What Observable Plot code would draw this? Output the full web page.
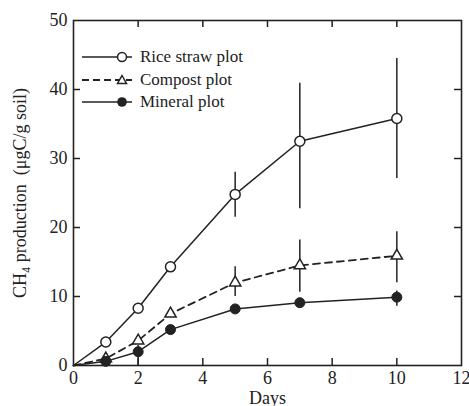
<!DOCTYPE html>
<html>
<head>
<meta charset="utf-8">
<script src="https://cdn.jsdelivr.net/npm/d3@7"></script>
<script src="https://cdn.jsdelivr.net/npm/@observablehq/plot@0.6"></script>
<style>
  body { margin: 0; background: #fff; }
  #wrap { position: relative; width: 469px; height: 406px; font-family: "Liberation Serif", "DejaVu Serif", serif; }
  #legend { position: absolute; left: 80px; top: 46px; font-size: 17px; color: #222; }
  .row { display: flex; align-items: center; height: 22.5px; }
  .row span { margin-left: 6px; }
</style>
</head>
<body>
<div id="wrap"></div>
<script>
const days = [0, 1, 2, 3, 5, 7, 10];
const seriesNames = ["Rice straw plot", "Compost plot", "Mineral plot"];
const riceMean = [0, 3.4, 8.3, 14.3, 24.8, 32.5, 35.8];
const riceLo   = [null, null, null, null, 21.5, 22.7, 27.1];
const riceHi   = [null, null, null, null, 28.0, 40.9, 44.5];
const compostMean = [0, 1.0, 3.6, 7.5, 12.0, 14.5, 15.9];
const compostLo   = [null, null, null, null, 10.0, 10.6, 12.0];
const compostHi   = [null, null, null, null, 14.3, 18.2, 19.4];
const mineralMean = [0, 0.6, 2.0, 5.2, 8.2, 9.1, 9.9];
const mineralLo   = [null, null, 0.0, null, null, null, 8.6];
const mineralHi   = [null, null, 2.9, null, null, null, 10.8];
const xTicks = [0, 2, 4, 6, 8, 10, 12];
const yTicks = [0, 10, 20, 30, 40, 50];

function rows(mean, lo, hi, name) {
  return days.map((d, i) => ({day: d, value: mean[i], lo: lo[i], hi: hi[i], series: name}));
}
const rice = rows(riceMean, riceLo, riceHi, seriesNames[0]);
const compost = rows(compostMean, compostLo, compostHi, seriesNames[1]);
const mineral = rows(mineralMean, mineralLo, mineralHi, seriesNames[2]);
const all = [...rice, ...compost, ...mineral];
const bars = all.filter(d => d.lo != null && d.day > 0);

const W = 469, H = 406, mL = 73, mR = 8, mT = 20, mB = 41, TK = 7;
const fw = W - mL - mR, fh = H - mT - mB;
const xMin = xTicks[0], xMax = xTicks[xTicks.length - 1];
const yMin = yTicks[0], yMax = yTicks[yTicks.length - 1];
const tkY = (yMax - yMin) * TK / fh;   // tick length in y units
const tkX = (xMax - xMin) * TK / fw;   // tick length in x units
const ink = "#222";
const inner = a => a.slice(1, -1);
const chart = Plot.plot({
  width: W,
  height: H,
  marginLeft: mL,
  marginRight: mR,
  marginTop: mT,
  marginBottom: mB,
  style: {fontFamily: "Liberation Serif, serif", fontSize: "18px", color: ink, background: "white"},
  x: {domain: [xMin, xMax]},
  y: {domain: [yMin, yMax]},
  marks: [
    Plot.frame({stroke: ink, strokeWidth: 1.6}),
    Plot.axisX({ticks: xTicks, tickSize: 0, tickPadding: 6, tickFormat: d => String(d), label: "Days", labelAnchor: "center", labelArrow: "none", labelOffset: 38, fontSize: 18}),
    Plot.axisY({ticks: yTicks, tickSize: 0, tickPadding: 6, tickFormat: d => String(d), label: "CH\u2084 production  (\u03bcgC/g soil)", labelAnchor: "center", labelArrow: "none", labelOffset: 60, fontSize: 18}),
    // inward ticks on all four sides
    Plot.ruleX(inner(xTicks), {x: d => d, y1: yMin, y2: yMin + tkY, stroke: ink, strokeWidth: 1.5}),
    Plot.ruleX(inner(xTicks), {x: d => d, y1: yMax - tkY, y2: yMax, stroke: ink, strokeWidth: 1.5}),
    Plot.ruleY(inner(yTicks), {y: d => d, x1: xMin, x2: xMin + tkX, stroke: ink, strokeWidth: 1.5}),
    Plot.ruleY(inner(yTicks), {y: d => d, x1: xMax - tkX, x2: xMax, stroke: ink, strokeWidth: 1.5}),
    Plot.ruleX(bars, {x: "day", y1: "lo", y2: "hi", stroke: ink, strokeWidth: 1.5}),
    Plot.line(rice, {x: "day", y: "value", stroke: ink, strokeWidth: 1.5}),
    Plot.line(compost, {x: "day", y: "value", stroke: ink, strokeWidth: 1.8, strokeDasharray: "7,5"}),
    Plot.line(mineral, {x: "day", y: "value", stroke: ink, strokeWidth: 1.5}),
    Plot.dot(rice.filter(d => d.day > 0), {x: "day", y: "value", r: 5, fill: "white", stroke: ink, strokeWidth: 1.5}),
    Plot.dot(compost.filter(d => d.day > 0), {x: "day", y: "value", r: 4.2, symbol: "triangle", fill: "white", stroke: ink, strokeWidth: 1.5}),
    Plot.dot(mineral.filter(d => d.day > 0), {x: "day", y: "value", r: 5, fill: ink, stroke: ink, strokeWidth: 1})
  ]
});
chart.querySelectorAll("text").forEach(t => t.setAttribute("font-family", "Liberation Serif, serif"));
const wrap = document.getElementById("wrap");
wrap.appendChild(chart);

// legend
const legend = document.createElement("div");
legend.id = "legend";
const sym = [
  `<line x1="2" y1="8" x2="52" y2="8" stroke="${ink}" stroke-width="1.5"/><circle cx="42" cy="8" r="4.5" fill="white" stroke="${ink}" stroke-width="1.5"/>`,
  `<line x1="2" y1="8" x2="52" y2="8" stroke="${ink}" stroke-width="1.8" stroke-dasharray="7,4"/><path d="M42,3.5 L46.5,11.5 L37.5,11.5 Z" fill="white" stroke="${ink}" stroke-width="1.5"/>`,
  `<line x1="2" y1="8" x2="52" y2="8" stroke="${ink}" stroke-width="1.5"/><circle cx="42" cy="8" r="4.8" fill="${ink}"/>`
];
seriesNames.forEach((n, i) => {
  const r = document.createElement("div");
  r.className = "row";
  r.innerHTML = `<svg width="54" height="16">${sym[i]}</svg><span>${n}</span>`;
  legend.appendChild(r);
});
wrap.appendChild(legend);
</script>
</body>
</html>
